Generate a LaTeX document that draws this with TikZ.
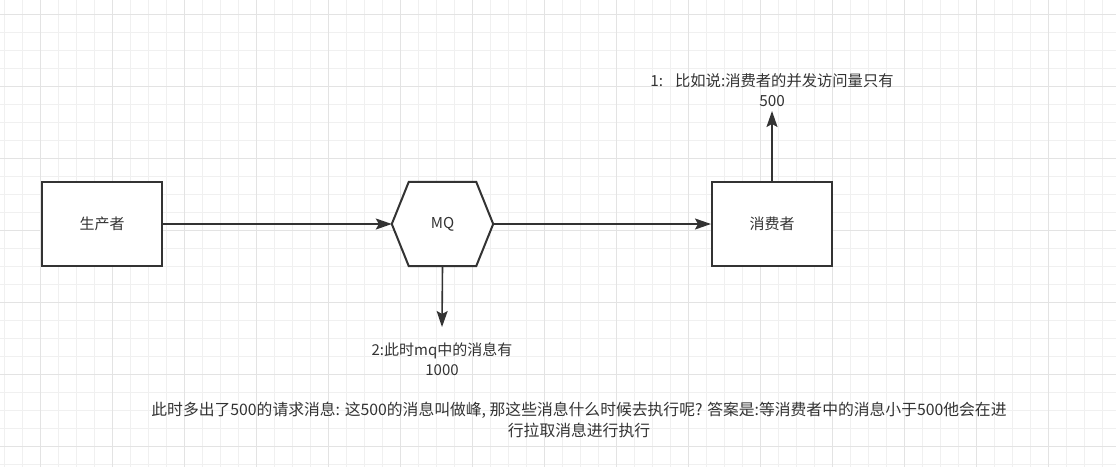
\documentclass[tikz,border=0pt]{standalone}
\usepackage{fontspec}
\setmainfont{Noto Sans CJK SC}
\usetikzlibrary{arrows.meta}
\definecolor{ink}{HTML}{333333}
\definecolor{gridminor}{HTML}{F0F0F0}
\definecolor{gridmajor}{HTML}{E3E3E3}
\tikzset{
  box/.style={draw=ink, line width=2pt, minimum width=120pt, minimum height=84pt, inner sep=0pt, text=ink},
  lbl/.style={text=ink, align=center, inner sep=0pt, font=\fontsize{15}{20}\selectfont},
  conn/.style={draw=ink, line width=1.6pt, -{Stealth[length=16pt,width=11pt,inset=3pt]}},
}
\begin{document}
\begin{tikzpicture}[x=1pt,y=-1pt]
\useasboundingbox (0,0) rectangle (1116,467);
\fill[white] (0,0) rectangle (1116,467);
% grid
\foreach \i in {0,...,62} {
  \pgfmathsetmacro{\xx}{4.7+18*\i}
  \draw[gridminor, line width=1pt] (\xx,0) -- (\xx,467);
}
\foreach \i in {0,...,25} {
  \pgfmathsetmacro{\yy}{14.7+18*\i}
  \draw[gridminor, line width=1pt] (0,\yy) -- (1116,\yy);
}
\foreach \i in {0,...,14} {
  \pgfmathsetmacro{\xx}{40.7+72*\i}
  \draw[gridmajor, line width=1pt] (\xx,0) -- (\xx,467);
}
\foreach \i in {0,...,6} {
  \pgfmathsetmacro{\yy}{14.7+72*\i}
  \draw[gridmajor, line width=1pt] (0,\yy) -- (1116,\yy);
}
% nodes
\node[box, fill=white, font=\fontsize{15}{18}\selectfont] (prod) at (102,224) {生产者};
\node[box, fill=white, font=\fontsize{15}{18}\selectfont] (cons) at (772,224) {消费者};
\node[inner sep=0pt, minimum width=101pt, minimum height=84pt] (mq) at (442.5,224) {};
\fill[white] (mq.west) -- ([xshift=17pt]mq.north west) -- ([xshift=-17pt]mq.north east) -- (mq.east) -- ([xshift=-17pt]mq.south east) -- ([xshift=17pt]mq.south west) -- cycle;
\draw[ink, line width=2pt, line join=miter] (mq.west) -- ([xshift=17pt]mq.north west) -- ([xshift=-17pt]mq.north east) -- (mq.east) -- ([xshift=-17pt]mq.south east) -- ([xshift=17pt]mq.south west) -- cycle;
\node[lbl] (mqtext) at (mq.center) {MQ};
% labels
\node[lbl, font=\fontsize{15.3}{20}\selectfont] (lab1) at (772,90) {1:\hspace{12pt}比如说:消费者的并发访问量只有\\500};
\node[lbl] (lab2) at (442,359) {2:此时mq中的消息有\\1000};
\node[lbl, font=\fontsize{15.8}{21}\selectfont] (lab3) at (579,420) {此时多出了500的请求消息: 这500的消息叫做峰, 那这些消息什么时候去执行呢? 答案是:等消费者中的消息小于500他会在进\\行拉取消息进行执行};
\coordinate (up) at (772,111);
\coordinate (down) at (442,327);
% connectors
\draw[conn] (prod.east) -- (mq.west);
\draw[conn] (mq.east) -- (cons.west);
\draw[conn] (cons.north) -- (up);
\draw[conn] (mq.south) -- (down);
\end{tikzpicture}
\end{document}
